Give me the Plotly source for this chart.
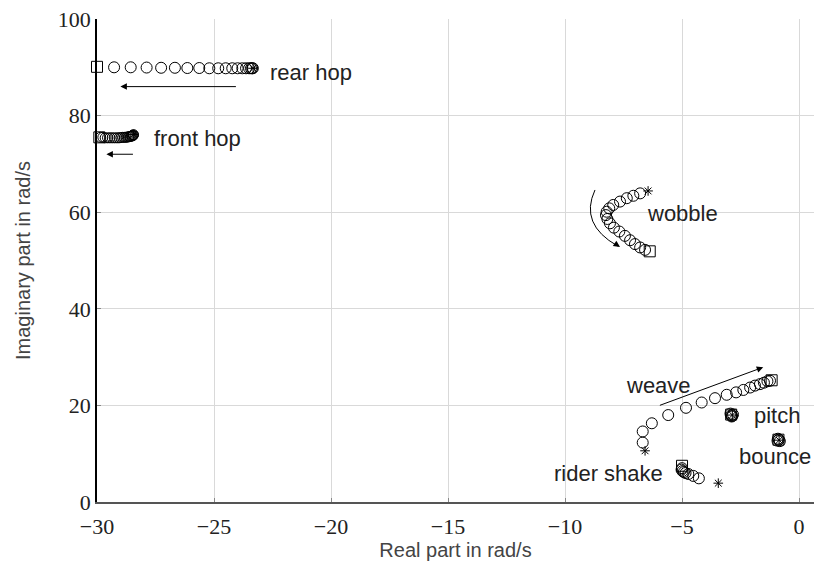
import plotly.graph_objects as go

# ---- data (real, imaginary parts in rad/s) ----
rear_x = [-29.27, -28.56, -27.88, -27.26, -26.67, -26.14, -25.63, -25.20, -24.82, -24.50,
          -24.22, -23.99, -23.79, -23.63, -23.50, -23.42, -23.37, -23.34]
rear_y = [90.0, 90.0, 89.95, 89.9, 89.9, 89.85, 89.85, 89.8, 89.8, 89.8,
          89.8, 89.8, 89.8, 89.8, 89.8, 89.8, 89.8, 89.8]
rear_sq = ([-30.0], [90.1])
rear_st = ([-23.33], [89.8])

front_x = [-29.85, -29.75, -29.65, -29.55, -29.45, -29.35, -29.25, -29.15, -29.06, -28.98,
           -28.90, -28.83, -28.77, -28.71, -28.66, -28.61, -28.57, -28.53, -28.50, -28.47,
           -28.45, -28.44]
front_y = [75.5, 75.5, 75.4, 75.4, 75.4, 75.4, 75.4, 75.4, 75.4, 75.45,
           75.5, 75.5, 75.5, 75.55, 75.6, 75.65, 75.7, 75.75, 75.8, 75.85,
           75.95, 76.05]
front_sq = ([-29.9], [75.5])
front_st = ([-28.43], [76.1])

wob_x = [-6.79, -7.08, -7.36, -7.65, -7.94, -8.11, -8.22, -8.25, -8.19, -8.08,
         -7.91, -7.68, -7.44, -7.22, -7.01, -6.79, -6.58]
wob_y = [63.9, 63.4, 62.9, 62.2, 61.5, 60.8, 60.1, 59.4, 58.6, 57.7,
         56.8, 56.0, 55.1, 54.2, 53.4, 52.7, 52.2]
wob_sq = ([-6.38], [51.9])
wob_st = ([-6.45], [64.4])

weave_x = [-6.68, -6.68, -6.29, -5.59, -4.83, -4.16, -3.59, -3.09, -2.69, -2.38,
           -2.09, -1.88, -1.67, -1.50, -1.35, -1.24]
weave_y = [12.3, 14.6, 16.3, 18.0, 19.5, 20.6, 21.5, 22.2, 22.7, 23.2,
           23.7, 24.1, 24.4, 24.7, 25.0, 25.1]
weave_sq = ([-1.17], [25.2])
weave_st = ([-6.58], [10.6])

pitch_x = [-2.93, -2.90, -2.86, -2.82, -2.88]
pitch_y = [18.3, 18.0, 17.8, 18.1, 17.7]
pitch_sq = ([-2.90], [18.1])
pitch_st = ([-2.85], [18.0])

bounce_x = [-0.92, -0.86, -0.82, -0.90]
bounce_y = [12.7, 12.9, 12.6, 13.1]
bounce_sq = ([-0.88], [12.9])
bounce_st = ([-0.85], [12.8])

rider_x = [-5.00, -5.02, -4.98, -4.92, -4.85, -4.73, -4.52, -4.28]
rider_y = [7.0, 6.7, 6.4, 6.2, 6.0, 5.8, 5.4, 4.9]
rider_sq = ([-5.00], [7.5])
rider_st = ([-3.45], [3.9])

x_ticks = [-30, -25, -20, -15, -10, -5, 0]
y_ticks = [0, 20, 40, 60, 80, 100]

fig = go.Figure()

def add_mode(cx, cy, sq, st, csize=11):
    fig.add_trace(go.Scatter(x=cx, y=cy, mode="markers", cliponaxis=False,
                             marker=dict(symbol="circle-open", size=csize, color="black",
                                         line=dict(width=1, color="black")),
                             showlegend=False, hoverinfo="skip"))
    fig.add_trace(go.Scatter(x=sq[0], y=sq[1], mode="markers", cliponaxis=False,
                             marker=dict(symbol="square-open", size=11, color="black",
                                         line=dict(width=1, color="black")),
                             showlegend=False, hoverinfo="skip"))
    fig.add_trace(go.Scatter(x=st[0], y=st[1], mode="markers", cliponaxis=False,
                             marker=dict(symbol="asterisk-open", size=8, color="black",
                                         line=dict(width=1, color="black")),
                             showlegend=False, hoverinfo="skip"))

add_mode(rear_x, rear_y, rear_sq, rear_st)
add_mode(front_x, front_y, front_sq, front_st, csize=10)
add_mode(wob_x, wob_y, wob_sq, wob_st)
add_mode(weave_x, weave_y, weave_sq, weave_st)
add_mode(pitch_x, pitch_y, pitch_sq, pitch_st)
add_mode(bounce_x, bounce_y, bounce_sq, bounce_st)
add_mode(rider_x, rider_y, rider_sq, rider_st)

# curved wobble arrow
fig.add_shape(type="path", path="M -8.72,64.6 Q -9.4,57.5 -7.75,53.0",
              xref="x", yref="y", line=dict(color="black", width=1))

ann_font = dict(family="Liberation Sans, Arial, sans-serif", size=22, color="#222")
arrows = [
    # (x_head, y_head, x_tail, y_tail)
    (-29.0, 86.0, -24.0, 86.0),
    (-29.6, 72.0, -28.4, 72.0),
    (-1.53, 27.9, -6.01, 19.9),
    (-7.65, 52.8, -7.9, 53.6),
]
annotations = []
for xh, yh, xt, yt in arrows:
    annotations.append(dict(x=xh, y=yh, ax=xt, ay=yt, xref="x", yref="y", axref="x", ayref="y",
                            showarrow=True, arrowhead=2, arrowsize=1.3, arrowwidth=1,
                            arrowcolor="black", text=""))

labels = [
    ("rear hop", -22.7, 89.0, "left"),
    ("front hop", -27.66, 75.3, "left"),
    ("wobble", -6.58, 59.8, "left"),
    ("weave", -6.02, 24.2, "center"),
    ("pitch", -2.02, 18.0, "left"),
    ("bounce", -2.66, 9.4, "left"),
    ("rider shake", -5.73, 5.9, "right"),
]
for t, x, y, anc in labels:
    annotations.append(dict(x=x, y=y, xref="x", yref="y", text=t, showarrow=False,
                            xanchor=anc, yanchor="middle", font=ann_font))

tick_font = dict(family="Liberation Serif, serif", size=22, color="#222")
title_font = dict(family="Liberation Sans, Arial, sans-serif", size=20, color="#444")

fig.update_layout(
    width=814, height=565,
    margin=dict(l=97, r=0, t=19, b=63),
    plot_bgcolor="white", paper_bgcolor="white",
    annotations=annotations,
    xaxis=dict(range=[-30, 0.64], tickvals=x_ticks, showgrid=True, gridcolor="#d9d9d9",
               gridwidth=1, zeroline=False, showline=True, linecolor="#555", linewidth=1.5,
               ticks="inside", ticklen=4, tickcolor="#888", tickfont=tick_font,
               ticklabelstandoff=4,
               title=dict(text="Real part in rad/s", standoff=2, font=title_font)),
    yaxis=dict(range=[0, 100], tickvals=y_ticks, showgrid=True, gridcolor="#d9d9d9",
               gridwidth=1, zeroline=False, showline=True, linecolor="black", linewidth=1.5,
               ticks="inside", ticklen=4, tickcolor="#888", tickfont=tick_font,
               title=dict(text="Imaginary part in rad/s", standoff=22, font=title_font)),
)

fig.write_html("out.html")
